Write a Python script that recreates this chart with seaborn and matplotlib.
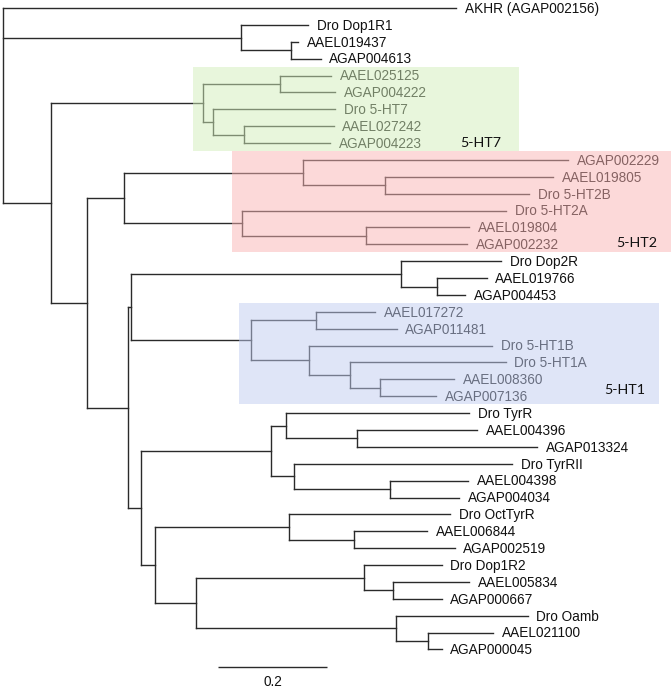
import matplotlib
matplotlib.use("Agg")
import matplotlib.pyplot as plt
import seaborn as sns
import pandas as pd
from matplotlib.patches import Rectangle

# ---------------- data: tree topology and branch lengths ----------------
node_names = [
    "root", "AKHR (AGAP002156)", "n_dop1", "Dro Dop1R1", "n_dop1b", "AAEL019437", "AGAP004613",
    "n_B", "n_ht7", "n_ht7a", "AAEL025125", "AGAP004222", "n_ht7b", "Dro 5-HT7", "n_ht7c",
    "AAEL027242", "AGAP004223", "n_C", "n_ht2", "n_ht2a", "AGAP002229", "n_ht2b", "AAEL019805",
    "Dro 5-HT2B", "n_ht2c", "Dro 5-HT2A", "n_ht2d", "AAEL019804", "AGAP002232", "n_F", "n_E",
    "n_dop2", "Dro Dop2R", "n_dop2b", "AAEL019766", "AGAP004453", "n_ht1", "n_ht1a", "AAEL017272",
    "AGAP011481", "n_ht1b", "Dro 5-HT1B", "n_ht1c", "Dro 5-HT1A", "n_ht1d", "AAEL008360",
    "AGAP007136", "n_G", "n_tyr", "n_tyra", "Dro TyrR", "n_tyrb", "AAEL004396", "AGAP013324",
    "n_tyrc", "Dro TyrRII", "n_tyrd", "AAEL004398", "AGAP004034", "n_G2", "n_oct", "Dro OctTyrR",
    "n_octb", "AAEL006844", "AGAP002519", "n_G3", "n_d1", "Dro Dop1R2", "n_d1b", "AAEL005834",
    "AGAP000667", "n_oa", "Dro Oamb", "n_oab", "AAEL021100", "AGAP000045",
]
parent_names = [
    None, "root", "root", "n_dop1", "n_dop1", "n_dop1b", "n_dop1b",
    "root", "n_B", "n_ht7", "n_ht7a", "n_ht7a", "n_ht7", "n_ht7b", "n_ht7b",
    "n_ht7c", "n_ht7c", "n_B", "n_C", "n_ht2", "n_ht2a", "n_ht2a", "n_ht2b",
    "n_ht2b", "n_ht2", "n_ht2c", "n_ht2c", "n_ht2d", "n_ht2d", "n_C", "n_F",
    "n_E", "n_dop2", "n_dop2", "n_dop2b", "n_dop2b", "n_E", "n_ht1", "n_ht1a",
    "n_ht1a", "n_ht1", "n_ht1b", "n_ht1b", "n_ht1c", "n_ht1c", "n_ht1d",
    "n_ht1d", "n_F", "n_G", "n_tyr", "n_tyra", "n_tyra", "n_tyrb", "n_tyrb",
    "n_tyr", "n_tyrc", "n_tyrc", "n_tyrd", "n_tyrd", "n_G", "n_G2", "n_oct",
    "n_oct", "n_octb", "n_octb", "n_G2", "n_G3", "n_d1", "n_d1", "n_d1b",
    "n_d1b", "n_G3", "n_oa", "n_oa", "n_oab", "n_oab",
]
branch_lengths = [
    0.0, 0.831, 0.436, 0.123, 0.091, 0.014, 0.055,
    0.087, 0.280, 0.141, 0.094, 0.101, 0.018, 0.224, 0.056,
    0.165, 0.159, 0.067, 0.068, 0.328, 0.486, 0.150, 0.309,
    0.265, 0.216, 0.484, 0.227, 0.190, 0.186, 0.074, 0.0055,
    0.496, 0.184, 0.067, 0.090, 0.051, 0.220, 0.120, 0.108,
    0.148, 0.108, 0.335, 0.075, 0.285, 0.055, 0.135,
    0.103, 0.024, 0.239, 0.028, 0.336, 0.130, 0.220, 0.330,
    0.042, 0.401, 0.177, 0.142, 0.126, 0.027, 0.245, 0.296,
    0.119, 0.134, 0.185, 0.075, 0.307, 0.143, 0.053, 0.141,
    0.090, 0.366, 0.242, 0.059, 0.119, 0.025,
]

# highlighted receptor groups: label, first leaf, last leaf, colour
group_labels = ["5-HT7", "5-HT2", "5-HT1"]
group_first = ["AAEL025125", "AGAP002229", "AAEL017272"]
group_last = ["AGAP004223", "AGAP002232", "AGAP007136"]
group_colors = ["#d3efbb", "#fbb5b5", "#c1cdf1"]

scale_value = 0.2

# ---------------- layout constants ----------------
W, H = 672, 688
PX_PER_UNIT = 545.0
X0_PX = 3.4
ROW_PX = 16.88
Y0_PX = 8.0
LINE_COLOR = "#2a2a2a"
LABEL_FONT = ["Liberation Sans", "DejaVu Sans"]

# ---------------- compute tree coordinates ----------------
children = {n: [] for n in node_names}
for n, p in zip(node_names, parent_names):
    if p is not None:
        children[p].append(n)
blen = dict(zip(node_names, branch_lengths))

xpos, ypos = {}, {}
leaf_counter = [0]


def layout(n, depth):
    xpos[n] = depth
    if not children[n]:
        ypos[n] = leaf_counter[0]
        leaf_counter[0] += 1
    else:
        for c in children[n]:
            layout(c, depth + blen[c])
        ys = [ypos[c] for c in children[n]]
        ypos[n] = (min(ys) + max(ys)) / 2.0 if n != "root" else None


layout("root", 0.0)
# root vertical spans from first child to last child
root_ys = [ypos[c] for c in children["root"]]
ypos["root"] = (min(root_ys) + max(root_ys)) / 2.0

rows = []
seg = 0
for n, p in zip(node_names, parent_names):
    if p is not None:
        rows.append((seg, xpos[p], ypos[n]))
        rows.append((seg, xpos[n], ypos[n]))
        seg += 1
    if children[n]:
        ys = [ypos[c] for c in children[n]]
        rows.append((seg, xpos[n], min(ys)))
        rows.append((seg, xpos[n], max(ys)))
        seg += 1
df = pd.DataFrame(rows, columns=["seg", "x", "y"])

# ---------------- draw ----------------
sns.set_theme(style="white")
plt.rcParams["font.family"] = LABEL_FONT

fig = plt.figure(figsize=(W / 100, H / 100), dpi=100)
ax = fig.add_axes([0, 0, 1, 1])

sns.lineplot(data=df, x="x", y="y", units="seg", estimator=None, sort=False,
             color=LINE_COLOR, lw=1.0, ax=ax, legend=False,
             solid_capstyle="projecting", zorder=2)

leaves = [n for n in node_names if not children[n]]
for n in leaves:
    ax.annotate(n, (xpos[n], ypos[n]), xytext=(6.3, -0.6), textcoords="offset points",
                ha="left", va="center", fontsize=9.85, color="#111111",
                family=LABEL_FONT, zorder=2)

# group boxes (semi-transparent overlays, as in the original figure)
box_x = [(193, 519), (231.5, 671), (238.7, 659)]
label_pos = [(481, 8.0), (637, 13.9), (625, 22.65)]
for lab, f, l, col, (bx0, bx1), (lx, ly) in zip(group_labels, group_first, group_last,
                                                 group_colors, box_x, label_pos):
    x0 = (bx0 - X0_PX) / PX_PER_UNIT
    x1 = (bx1 - X0_PX) / PX_PER_UNIT
    y0 = ypos[f] - 0.5
    y1 = ypos[l] + 0.47
    ax.add_patch(Rectangle((x0, y0), x1 - x0, y1 - y0, facecolor=col, edgecolor="none",
                           alpha=0.5, zorder=3))
    ax.text((lx - X0_PX) / PX_PER_UNIT, ly, lab, ha="center", va="center",
            fontsize=10.3, family=["Lato", "DejaVu Sans"], color="#111111", zorder=4)

# scale bar
sb_x0 = (218 - X0_PX) / PX_PER_UNIT
sb_y = len(leaves) + 0.04
ax.plot([sb_x0, sb_x0 + scale_value], [sb_y, sb_y], color=LINE_COLOR, lw=1.0,
        solid_capstyle="butt")
ax.text(sb_x0 + scale_value / 2, sb_y + 0.9, f"{scale_value:.1f}", ha="center", va="center",
        fontsize=9.85, family=LABEL_FONT, color="#111111")

ax.set_xlim(-X0_PX / PX_PER_UNIT, (W - X0_PX) / PX_PER_UNIT)
ax.set_ylim((H - Y0_PX) / ROW_PX, -Y0_PX / ROW_PX)
ax.axis("off")

fig.savefig("out.png", dpi=100)
